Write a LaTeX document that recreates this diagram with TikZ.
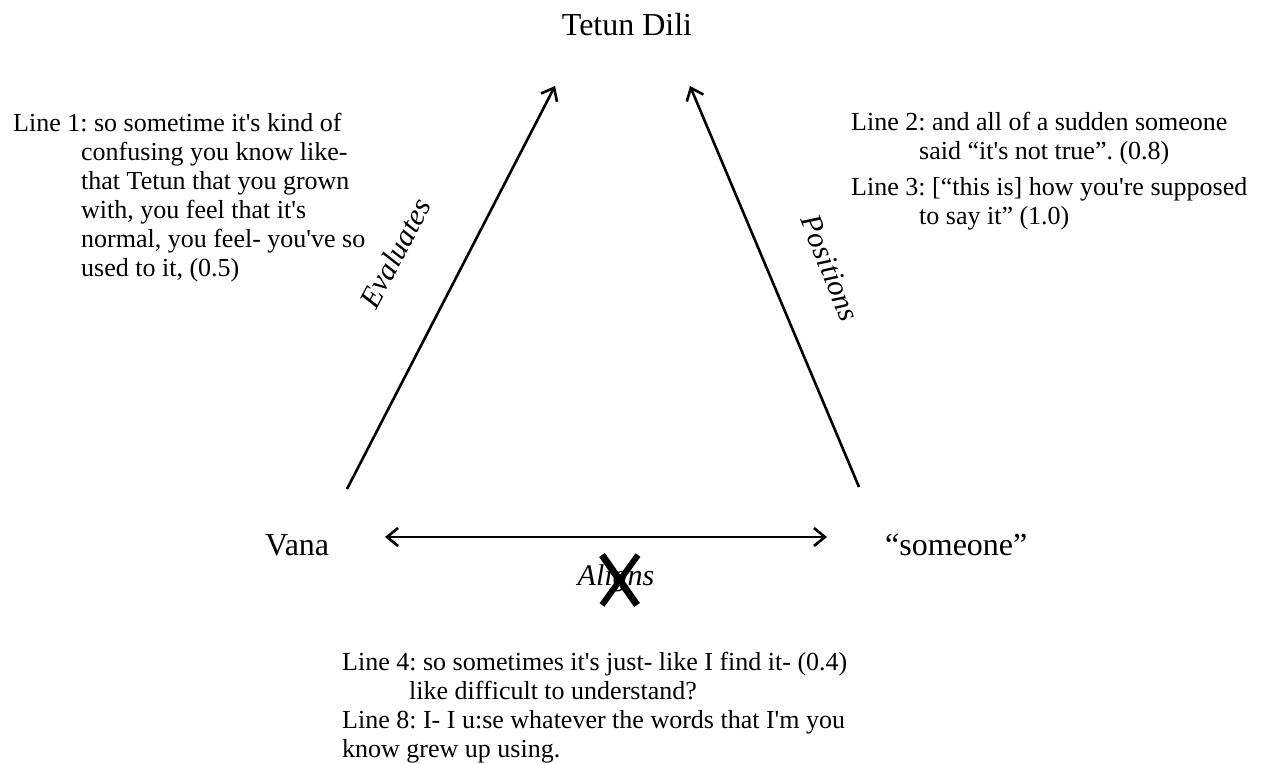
\documentclass[tikz,border=0pt]{standalone}
\usepackage{fontspec}
\setmainfont{Liberation Serif}[Ligatures=TeXOff]
\usetikzlibrary{arrows.meta}
\frenchspacing
\begin{document}
\begin{tikzpicture}[x=1pt,y=-1pt,
  lbl/.style={font=\fontsize{32}{36}\selectfont, inner sep=0pt},
  edgelbl/.style={font=\fontsize{30}{34}\selectfont\itshape, inner sep=0pt},
  quote/.style={font=\fontsize{26}{29}\selectfont\frenchspacing, align=left, inner sep=0pt, anchor=base west},
  tipstyle/.tip={Straight Barb[length=11pt,width=18pt]},
  arr/.style={line width=2.6pt, -tipstyle},
  darr/.style={line width=2.6pt, tipstyle-tipstyle},
  cross/.style={line width=7pt}]
\path[use as bounding box, fill=white] (0,0) rectangle (1263,763);

% vertices
\node[lbl, anchor=base] (tetun) at (627,35) {Tetun Dili};
\node[lbl, anchor=base west] (vana) at (265,555) {Vana};
\node[lbl, anchor=base west] (someone) at (885,555) {“someone”};

% connector end points
\coordinate (evS) at (347,489);
\coordinate (evE) at (555,86);
\coordinate (poS) at (859,487);
\coordinate (poE) at (690,86);
\coordinate (alS) at (385,537);
\coordinate (alE) at (827,537);

\draw[arr] (evS) -- (evE);
\draw[arr] (poS) -- (poE);
\draw[darr] (alS) -- (alE);

% edge labels
\node[edgelbl, rotate=62] (evaluates) at (395,253) {Evaluates};
\node[edgelbl, rotate=-68] (positions) at (830,268) {Positions};
\node[edgelbl, anchor=base] (aligns) at (616,585) {Aligns};
\coordinate (xa) at (602,555);
\coordinate (xb) at (637,605);
\coordinate (xc) at (638,555);
\coordinate (xd) at (602,605);
\draw[cross] (xa) -- (xb);
\draw[cross, line width=6pt] (xc) -- (xd);

% quotations (base anchor = baseline of the last line)
\node[quote] (q1) at (13,276) {Line 1: so sometime it's kind of\\
\hspace*{68pt}confusing you know like-\\
\hspace*{68pt}that Tetun that you grown\\
\hspace*{68pt}with, you feel that it's\\
\hspace*{68pt}normal, you feel- you've so\\
\hspace*{68pt}used to it, (0.5)};

\node[quote] (q2) at (851,159) {Line 2: and all of a sudden someone\\
\hspace*{68pt}said “it's not true”. (0.8)};
\node[quote] (q3) at (851,224) {Line 3: [“this is] how you're supposed\\
\hspace*{68pt}to say it” (1.0)};

\node[quote] (q4) at (342,699) {Line 4: so sometimes it's just- like I find it- (0.4)\\
\hspace*{67pt}like difficult to understand?};
\node[quote] (q8) at (342,757) {Line 8: I- I u:se whatever the words that I'm you\\
know grew up using.};
\end{tikzpicture}
\end{document}
